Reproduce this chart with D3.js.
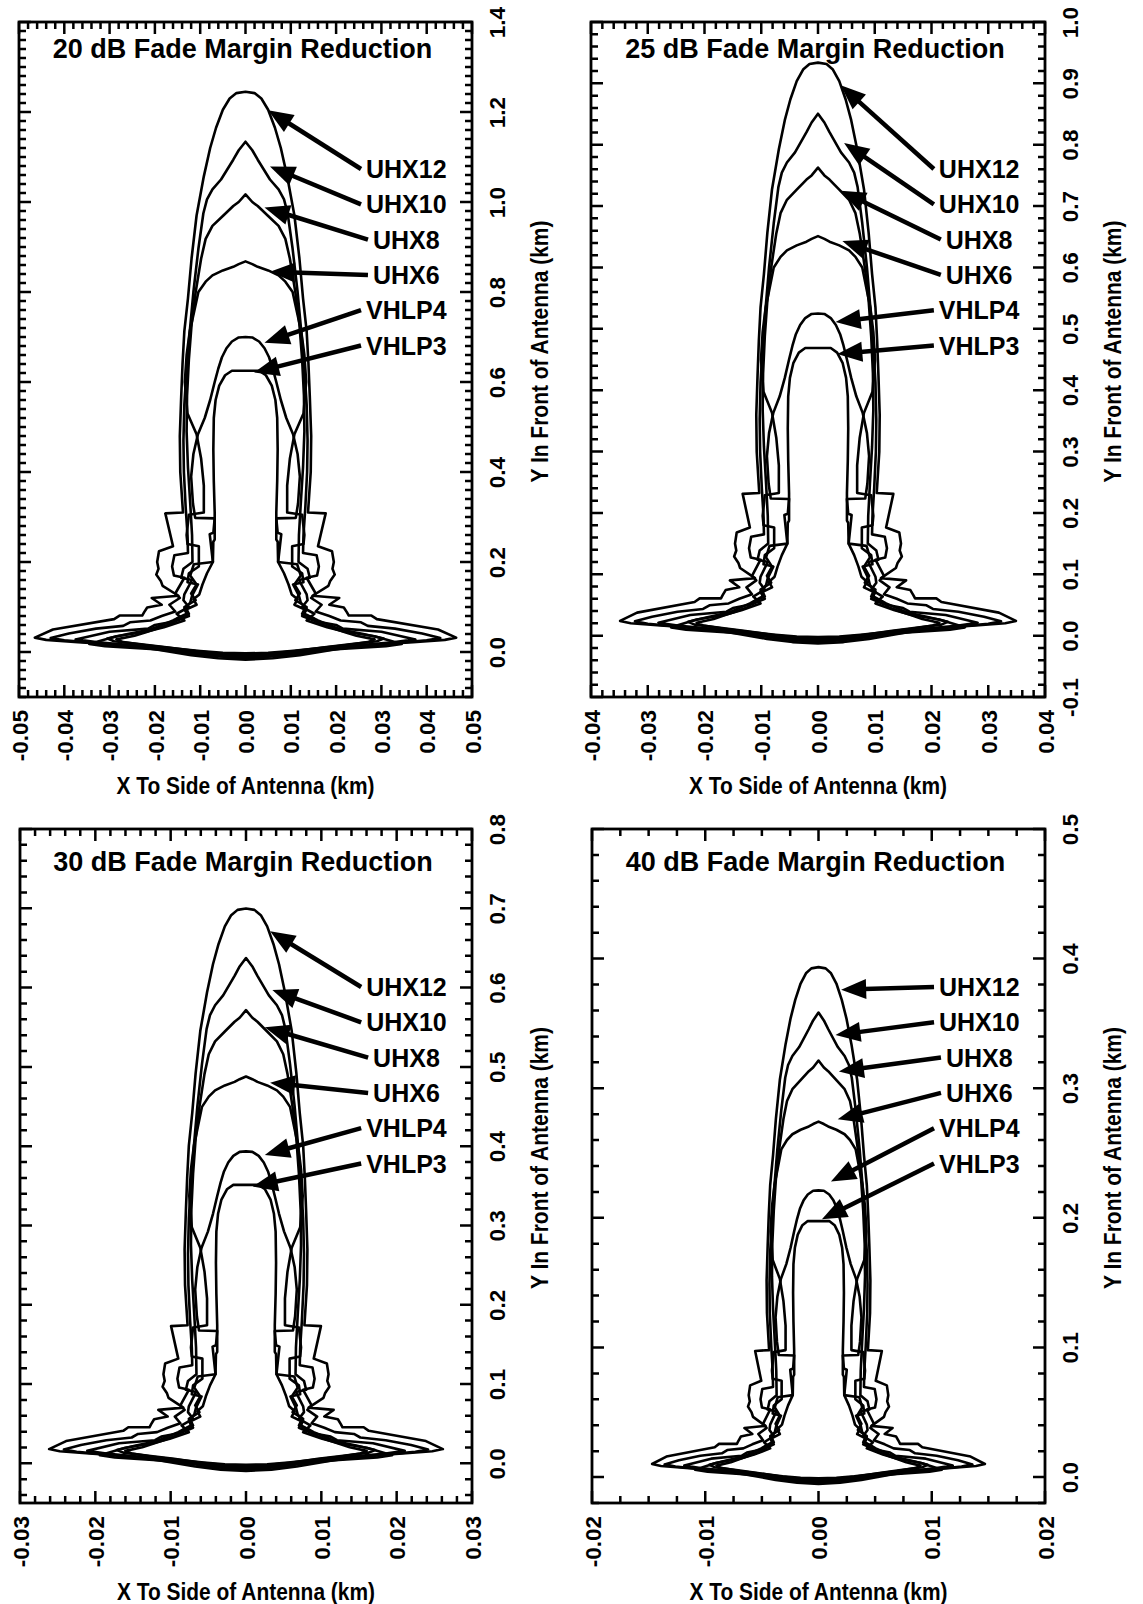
<!DOCTYPE html>
<html>
<head>
<meta charset="utf-8">
<script src="https://cdn.jsdelivr.net/npm/d3@7"></script>
<style>
  html, body { margin: 0; padding: 0; background: #fff; }
  svg { display: block; }
  text { font-family: "Liberation Sans", Arial, sans-serif; font-weight: bold; fill: #000; }
</style>
</head>
<body>
<svg id="chart" width="1143" height="1604"></svg>
<script>
// Antenna coverage contours for four fade-margin reductions.
const antennas = ["UHX12", "UHX10", "UHX8", "UHX6", "VHLP4", "VHLP3"];
const fadeMarginDb = [20, 25, 30, 40];
// range of every contour relative to the 20 dB case
const rangeScale = [1.0, 0.75, 0.562, 0.316];

const xDomains = [[-0.05, 0.05], [-0.04, 0.04], [-0.03, 0.03], [-0.02, 0.02]];
const yDomains = [[-0.1, 1.4], [-0.1, 1.0], [-0.05, 0.8], [-0.02, 0.5]];
const xMajorStep = [0.01, 0.01, 0.01, 0.01];
const xMinorStep = [0.002, 0.002, 0.002, 0.0025];
const yMajorStep = [0.2, 0.1, 0.1, 0.1];
const yMinorStep = [0.02, 0.02, 0.02, 0.02];

// Right half of each contour at 20 dB, km (x to side, y in front), top to bottom.
const uhx12Outline = [[0,1.245],[0.002,1.242],[0.0035,1.23],[0.005,1.205],[0.0065,1.165],[0.0078,1.12],
  [0.0092,1.057],[0.0108,0.97],[0.0119,0.875],[0.0127,0.786],[0.0135,0.713],[0.0139,0.64],[0.0142,0.566],
  [0.0145,0.48],[0.0144,0.40],[0.0138,0.31],[0.0177,0.308],[0.016,0.235],[0.0191,0.224],[0.0195,0.2],
  [0.0192,0.185],[0.0197,0.172],[0.0187,0.158],[0.0183,0.147],[0.0148,0.125],[0.0207,0.12],[0.0185,0.105],
  [0.0217,0.099],[0.0224,0.088],[0.0228,0.081],[0.0278,0.081],[0.029,0.073],[0.0425,0.05],[0.0465,0.032],
  [0.044,0.027],[0.037,0.022],[0.028,0.016],[0.02,0.006],[0.012,-0.007],[0.006,-0.014],[0,-0.017]];
const uhx10Outline = [[0,1.134],[0.0015,1.115],[0.0027,1.094],[0.0054,1.05],[0.0073,1.028],[0.0085,1.006],
  [0.0093,0.975],[0.0104,0.896],[0.0115,0.80],[0.0123,0.713],[0.013,0.63],[0.0135,0.55],[0.0137,0.47],
  [0.0136,0.40],[0.0132,0.32],[0.0128,0.26],[0.0127,0.22],[0.0157,0.215],[0.0162,0.19],[0.0158,0.17],
  [0.0135,0.165],[0.0155,0.13],[0.0145,0.12],[0.0168,0.105],[0.0155,0.09],[0.0185,0.08],[0.021,0.07],
  [0.0255,0.066],[0.027,0.058],[0.033,0.052],[0.039,0.041],[0.043,0.031],[0.04,0.026],[0.031,0.018],
  [0.022,0.01],[0.015,0.002],[0.008,-0.008],[0,-0.014]];
const uhx8Outline = [[0,1.017],[0.0015,1.0],[0.0027,0.991],[0.005,0.969],[0.0073,0.947],[0.0088,0.918],
  [0.0098,0.874],[0.011,0.80],[0.0119,0.728],[0.0125,0.65],[0.0129,0.57],[0.013,0.49],[0.0127,0.41],
  [0.0122,0.33],[0.0118,0.26],[0.0117,0.2],[0.0137,0.185],[0.0142,0.165],[0.0118,0.16],[0.0135,0.128],
  [0.0137,0.115],[0.0125,0.1],[0.0152,0.085],[0.0135,0.07],[0.018,0.055],[0.022,0.045],[0.0285,0.035],
  [0.0345,0.018],[0.031,0.013],[0.021,0.007],[0.013,0.0],[0.006,-0.008],[0,-0.011]];
const uhx6Outline = [[0,0.868],[0.0015,0.862],[0.0027,0.856],[0.005,0.848],[0.0073,0.837],[0.0088,0.823],
  [0.0104,0.80],[0.0115,0.749],[0.0123,0.713],[0.013,0.66],[0.0134,0.6],[0.0128,0.53],[0.0108,0.484],
  [0.0098,0.43],[0.0092,0.37],[0.0092,0.31],[0.0125,0.305],[0.013,0.26],[0.0128,0.24],[0.0103,0.235],
  [0.0103,0.19],[0.0125,0.175],[0.0128,0.155],[0.0105,0.15],[0.0118,0.125],[0.0122,0.11],[0.0135,0.095],
  [0.0125,0.08],[0.0155,0.068],[0.02,0.06],[0.0215,0.052],[0.03,0.045],[0.0375,0.028],[0.033,0.022],
  [0.025,0.015],[0.016,0.006],[0.01,-0.004],[0,-0.009]];
const vhlp4Outline = [[0,0.70],[0.0015,0.699],[0.003,0.69],[0.0042,0.675],[0.0052,0.655],[0.006,0.63],
  [0.0068,0.6],[0.0078,0.56],[0.009,0.52],[0.0105,0.484],[0.0115,0.44],[0.012,0.39],[0.0116,0.33],
  [0.0111,0.298],[0.0068,0.297],[0.0071,0.265],[0.0079,0.262],[0.0072,0.2],[0.0114,0.195],[0.0122,0.17],
  [0.0108,0.15],[0.012,0.13],[0.011,0.115],[0.0135,0.1],[0.013,0.085],[0.016,0.07],[0.018,0.062],
  [0.021,0.05],[0.026,0.04],[0.0305,0.03],[0.029,0.024],[0.023,0.017],[0.017,0.01],[0.011,0.002],
  [0.005,-0.004],[0,-0.006]];
const vhlp3Outline = [[0,0.625],[0.003,0.625],[0.0045,0.615],[0.0058,0.592],[0.0066,0.56],[0.007,0.52],
  [0.0071,0.45],[0.007,0.38],[0.0068,0.31],[0.0068,0.25],[0.0071,0.245],[0.0072,0.2],[0.0085,0.175],
  [0.0095,0.15],[0.0102,0.128],[0.0115,0.117],[0.0108,0.105],[0.013,0.095],[0.0125,0.085],[0.015,0.075],
  [0.0165,0.062],[0.0195,0.052],[0.022,0.044],[0.0245,0.036],[0.0285,0.028],[0.027,0.022],[0.022,0.015],
  [0.016,0.008],[0.01,0.002],[0.005,-0.002],[0,-0.003]];
const outlines = [uhx12Outline, uhx10Outline, uhx8Outline, uhx6Outline, vhlp4Outline, vhlp3Outline];

// Where each label's arrow points, in the km units of its own panel.
const arrowTips20 = [[0.005,1.204],[0.0054,1.079],[0.0042,0.988],[0.0054,0.845],[0.0042,0.687],[0.0019,0.621]];
const arrowTips25 = [[0.004,0.897],[0.0046,0.803],[0.004,0.725],[0.0043,0.643],[0.0031,0.511],[0.0034,0.459]];
const arrowTips30 = [[0.0032,0.671],[0.0035,0.597],[0.0025,0.55],[0.0032,0.48],[0.0025,0.389],[0.0009,0.349]];
const arrowTips40 = [[0.002,0.376],[0.0015,0.341],[0.0018,0.313],[0.0017,0.276],[0.0011,0.228],[0.0003,0.199]];
const arrowTips = [arrowTips20, arrowTips25, arrowTips30, arrowTips40];

const xTitle = "X To Side of Antenna (km)";
const yTitle = "Y In Front of Antenna (km)";

// ---- layout ----
const frames = [
  { x0: 19,  x1: 472,  y0: 22,  y1: 697,  titleDy: 36, labelDy: 147 },
  { x0: 591, x1: 1045, y0: 22,  y1: 697,  titleDy: 36, labelDy: 147 },
  { x0: 20,  x1: 472,  y0: 829, y1: 1503, titleDy: 42, labelDy: 158 },
  { x0: 592, x1: 1045, y0: 829, y1: 1503, titleDy: 42, labelDy: 158 }
];
const labelStep = 35.3;
const FONT = "'Liberation Sans', Arial, sans-serif";

const svg = d3.select("#chart");

function stepValues(lo, hi, step) {
  const a = Math.ceil(lo / step - 1e-9), b = Math.floor(hi / step + 1e-9);
  return d3.range(a, b + 1).map(i => +(i * step).toFixed(6));
}
function fmt(v, digits) {
  const s = Math.abs(v).toFixed(digits);
  return (v < 0 && +s !== 0 ? "-" : "") + s;
}

frames.forEach((f, p) => {
  const g = svg.append("g");
  const x = d3.scaleLinear().domain(xDomains[p]).range([f.x0, f.x1]);
  const y = d3.scaleLinear().domain(yDomains[p]).range([f.y1, f.y0]);

  const xMaj = stepValues(xDomains[p][0], xDomains[p][1], xMajorStep[p]);
  const xMin = stepValues(xDomains[p][0], xDomains[p][1], xMinorStep[p]);
  const yMaj = stepValues(yDomains[p][0], yDomains[p][1], yMajorStep[p]);
  const yMin = stepValues(yDomains[p][0], yDomains[p][1], yMinorStep[p]);
  const isMaj = (v, list) => list.some(m => Math.abs(m - v) < 1e-7);

  // inward ticks on all four sides
  const MAJ = 12, MIN = 7;
  const tickPath = [];
  xMin.forEach(v => {
    const L = isMaj(v, xMaj) ? MAJ : MIN, px = x(v);
    tickPath.push(`M${px},${f.y1}V${f.y1 - L}`, `M${px},${f.y0}V${f.y0 + L}`);
  });
  yMin.forEach(v => {
    const L = isMaj(v, yMaj) ? MAJ : MIN, py = y(v);
    tickPath.push(`M${f.x0},${py}H${f.x0 + L}`, `M${f.x1},${py}H${f.x1 - L}`);
  });
  g.append("path").attr("d", tickPath.join(""))
    .attr("fill", "none").attr("stroke", "#000").attr("stroke-width", 2.5);

  // bottom tick labels, rotated
  const bx = d3.axisBottom(x).tickValues(xMaj).tickSize(0).tickFormat(d => fmt(d, 2));
  const bg = g.append("g").attr("transform", `translate(0,${f.y1})`).call(bx);
  bg.select(".domain").remove();
  bg.selectAll(".tick text")
    .attr("transform", "rotate(-90)").attr("x", -13).attr("y", 0).attr("dy", "0.36em")
    .style("text-anchor", "end").style("font-size", "22.5px")
    .style("font-family", FONT).style("font-weight", "bold").attr("fill", "#000");

  // right tick labels, rotated
  const ry = d3.axisRight(y).tickValues(yMaj.filter(v => v >= -1e-9 || p === 1)).tickSize(0).tickFormat(d => fmt(d, 1));
  const rg = g.append("g").attr("transform", `translate(${f.x1},0)`).call(ry);
  rg.select(".domain").remove();
  rg.selectAll(".tick text")
    .attr("transform", "translate(33,0) rotate(-90)").attr("x", 0).attr("y", 0).attr("dy", 0)
    .style("text-anchor", "middle").style("font-size", "22.5px")
    .style("font-family", FONT).style("font-weight", "bold").attr("fill", "#000");

  // frame
  g.append("rect").attr("x", f.x0).attr("y", f.y0)
    .attr("width", f.x1 - f.x0).attr("height", f.y1 - f.y0)
    .attr("fill", "none").attr("stroke", "#000").attr("stroke-width", 2.8);

  // contours
  const s = rangeScale[p];
  const line = d3.line().x(d => x(d[0])).y(d => y(d[1])).curve(d3.curveLinear);
  const clipId = `clip${p}`;
  g.append("clipPath").attr("id", clipId).append("rect")
    .attr("x", f.x0).attr("y", f.y0).attr("width", f.x1 - f.x0).attr("height", f.y1 - f.y0);
  const cg = g.append("g").attr("clip-path", `url(#${clipId})`);
  outlines.forEach(half => {
    const right = half.map(([a, b]) => [a * s, b * s]);
    const left = right.slice().reverse().map(([a, b]) => [-a, b]);
    const ring = right.concat(left.slice(1));
    cg.append("path").attr("d", line(ring) + "Z")
      .attr("fill", "none").attr("stroke", "#000").attr("stroke-width", 2.6)
      .attr("stroke-linejoin", "round");
  });

  // panel title
  g.append("text").attr("x", (f.x0 + f.x1) / 2 - 3).attr("y", f.y0 + f.titleDy)
    .attr("text-anchor", "middle").style("font-size", "27px")
    .text(`${fadeMarginDb[p]} dB Fade Margin Reduction`);

  // axis titles
  g.append("text").attr("x", (f.x0 + f.x1) / 2).attr("y", f.y1 + 97)
    .attr("text-anchor", "middle").style("font-size", "23px")
    .attr("textLength", 258).attr("lengthAdjust", "spacingAndGlyphs").text(xTitle);
  g.append("text")
    .attr("transform", `translate(${f.x1 + 76},${(f.y0 + f.y1) / 2 - 8}) rotate(-90)`)
    .attr("text-anchor", "middle").style("font-size", "23px")
    .attr("textLength", 262).attr("lengthAdjust", "spacingAndGlyphs").text(yTitle);

  // labels with arrows
  const cx = f.x0 + 0.855 * (f.x1 - f.x0);
  antennas.forEach((name, i) => {
    const cy = f.y0 + f.labelDy + i * labelStep;
    const t = g.append("text").attr("x", cx).attr("y", cy + 9)
      .attr("text-anchor", "middle").style("font-size", "25px").text(name);
    const w = t.node().getComputedTextLength();
    const tail = [cx - w / 2 - 5, cy];
    const tip = [x(arrowTips[p][i][0]), y(arrowTips[p][i][1])];
    const dx = tip[0] - tail[0], dy = tip[1] - tail[1];
    const L = Math.hypot(dx, dy), ux = dx / L, uy = dy / L;
    const headLen = 25, headHalf = 10;
    const base = [tip[0] - ux * headLen, tip[1] - uy * headLen];
    g.append("line").attr("x1", tail[0]).attr("y1", tail[1])
      .attr("x2", base[0] + ux * 2).attr("y2", base[1] + uy * 2)
      .attr("stroke", "#000").attr("stroke-width", 4.5);
    g.append("path")
      .attr("d", `M${tip[0]},${tip[1]}L${base[0] - uy * headHalf},${base[1] + ux * headHalf}L${base[0] + uy * headHalf},${base[1] - ux * headHalf}Z`)
      .attr("fill", "#000");
  });
});
</script>
</body>
</html>
